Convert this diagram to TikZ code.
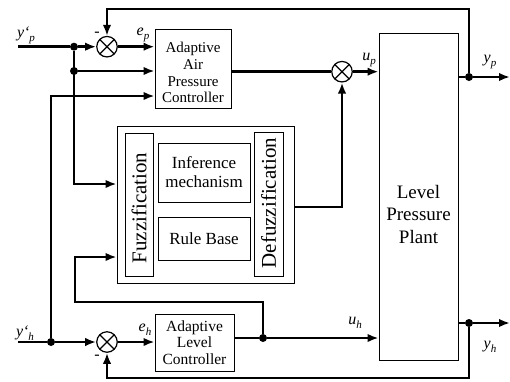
\documentclass[tikz,border=0pt]{standalone}
\usepackage{fontspec}
\setmainfont{Liberation Serif}
\newfontfamily\tms{Liberation Serif}
\usetikzlibrary{arrows.meta,calc}
\newcommand\lowsub[1]{\raisebox{-0.25em}{\fontsize{11}{11}\selectfont\tms\itshape #1}}
\begin{document}
\begin{tikzpicture}[x=1pt,y=-1pt,
  conn/.style={line width=2.6pt},
  arr/.style={conn,-{Latex[length=11pt,width=8.5pt]}},
  box/.style={draw,line width=0.9pt,inner sep=0pt,align=center},
  txt/.style={inner sep=0pt,align=center},
  dot/.style={circle,fill,inner sep=0pt,minimum size=8pt},
  sumc/.style={circle,draw,line width=1.2pt,minimum size=20.5pt,inner sep=0pt,
    path picture={\draw[line width=1.2pt] (path picture bounding box.north west)--(path picture bounding box.south east)
      (path picture bounding box.north east)--(path picture bounding box.south west);}},
  lbl/.style={inner sep=0pt,font=\fontsize{16}{16}\selectfont\tms\itshape}
]
\useasboundingbox (0,0) rectangle (510,381);

% blocks
\node[box,minimum width=76pt,minimum height=79pt] (apc) at (193,68.5) {};
\node[txt,font=\fontsize{15}{16.8}\selectfont\tms] (apct) at (193,72.5) {Adaptive\\Air\\Pressure\\Controller};
\node[box,minimum width=79pt,minimum height=57pt,font=\fontsize{15.5}{16.8}\selectfont\tms] (alc) at (194.5,342.5) {Adaptive\\Level\\Controller};
\node[box,minimum width=79pt,minimum height=327pt] (plant) at (418.5,196.5) {};
\node[txt,font=\fontsize{19}{22.5}\selectfont\tms] (plantt) at (418.5,214) {Level\\Pressure\\Plant};

\node[box,minimum width=177pt,minimum height=157pt] (flc) at (205.5,204.5) {};
\node[box,minimum width=28pt,minimum height=143pt] (fuzz) at (139,204.5) {};
\node[txt,rotate=90,font=\fontsize{21}{21}\selectfont\tms] (fuzzt) at (139,208) {Fuzzification};
\node[box,minimum width=29pt,minimum height=144pt] (defz) at (268.5,204) {};
\node[txt,rotate=90,font=\fontsize{21}{21}\selectfont\tms] (defzt) at (268.5,203) {Defuzzification};
\node[box,minimum width=92pt,minimum height=59pt,font=\fontsize{17}{19}\selectfont\tms] (inf) at (204,172.5) {Inference\\mechanism};
\node[box,minimum width=92pt,minimum height=43pt,font=\fontsize{17}{19}\selectfont\tms] (rule) at (204,238.5) {Rule Base};

% summing / multiplying junctions
\node[sumc] (sump) at (107,46.7) {};
\node[sumc] (sumh) at (107,342) {};
\node[sumc] (mult) at (342,71.7) {};

% dots
\node[dot] (j1) at (74,46.7) {};
\node[dot] (j2) at (74,71) {};
\node[dot] (j3) at (51,342) {};
\node[dot] (j4) at (263,338) {};
\node[dot] (jp) at (469,77) {};
\node[dot] (jh) at (469,323) {};

% helper coordinates
\coordinate (inp) at (18,46.7);
\coordinate (inh) at (18,342);
\coordinate (outp) at (510,77);
\coordinate (outh) at (510,323);
\coordinate (fzin) at (0,184);
\coordinate (ain3) at (0,96);
\coordinate (lp1) at (75,302);
\coordinate (lp2) at (0,257);
\coordinate (dfo) at (0,207);
\coordinate (top) at (0,9);
\coordinate (bot) at (0,378);

% connectors (pressure loop)
\draw[conn] (inp) -- (j1);
\draw[arr] (j1) -- (sump);
\draw[arr] (sump) -- (sump -| apc.west);
\draw[arr] (j2) -- (j2 -| apc.west);
\draw[arr] (j1) |- (flc.west |- fzin);
\draw[arr] (j3) |- (apc.west |- ain3);
\draw[conn] (apc.east |- mult) -- (mult);
\draw[arr] (mult) -- (mult -| plant.west);
\draw[arr] (flc.east |- dfo) -| (mult.south);
\draw[conn] (plant.east |- jp) -- (jp);
\draw[arr] (jp) -- (outp);
\draw[arr] (jp) -- (jp |- top) -| (sump.north);

% connectors (level loop)
\draw[conn] (inh) -- (j3);
\draw[arr] (j3) -- (sumh);
\draw[arr] (sumh) -- (sumh -| alc.west);
\draw[conn] (alc.east |- j4) -- (j4);
\draw[arr] (j4) -- (j4 -| plant.west);
\draw[arr] (j4) |- (lp1) |- (flc.west |- lp2);
\draw[conn] (plant.east |- jh) -- (jh);
\draw[arr] (jh) -- (outh);
\draw[arr] (jh) -- (jh |- bot) -| (sumh.south);

% labels
\node[lbl] (lyp) at (26,35) {y\textquoteleft\lowsub{p}};
\node[lbl] (lmp) at (97,34) {-};
\node[lbl] (lep) at (143,35) {e\lowsub{p}};
\node[lbl] (lup) at (369,60) {u\lowsub{p}};
\node[lbl] (lyo) at (490,62) {y\lowsub{p}};
\node[lbl] (lyh) at (25,333) {y\textquoteleft\lowsub{h}};
\node[lbl] (lmh) at (97,357) {-};
\node[lbl] (leh) at (145,330) {e\lowsub{h}};
\node[lbl] (luh) at (355,323) {u\lowsub{h}};
\node[lbl] (lyho) at (490,347) {y\lowsub{h}};
\end{tikzpicture}
\end{document}
